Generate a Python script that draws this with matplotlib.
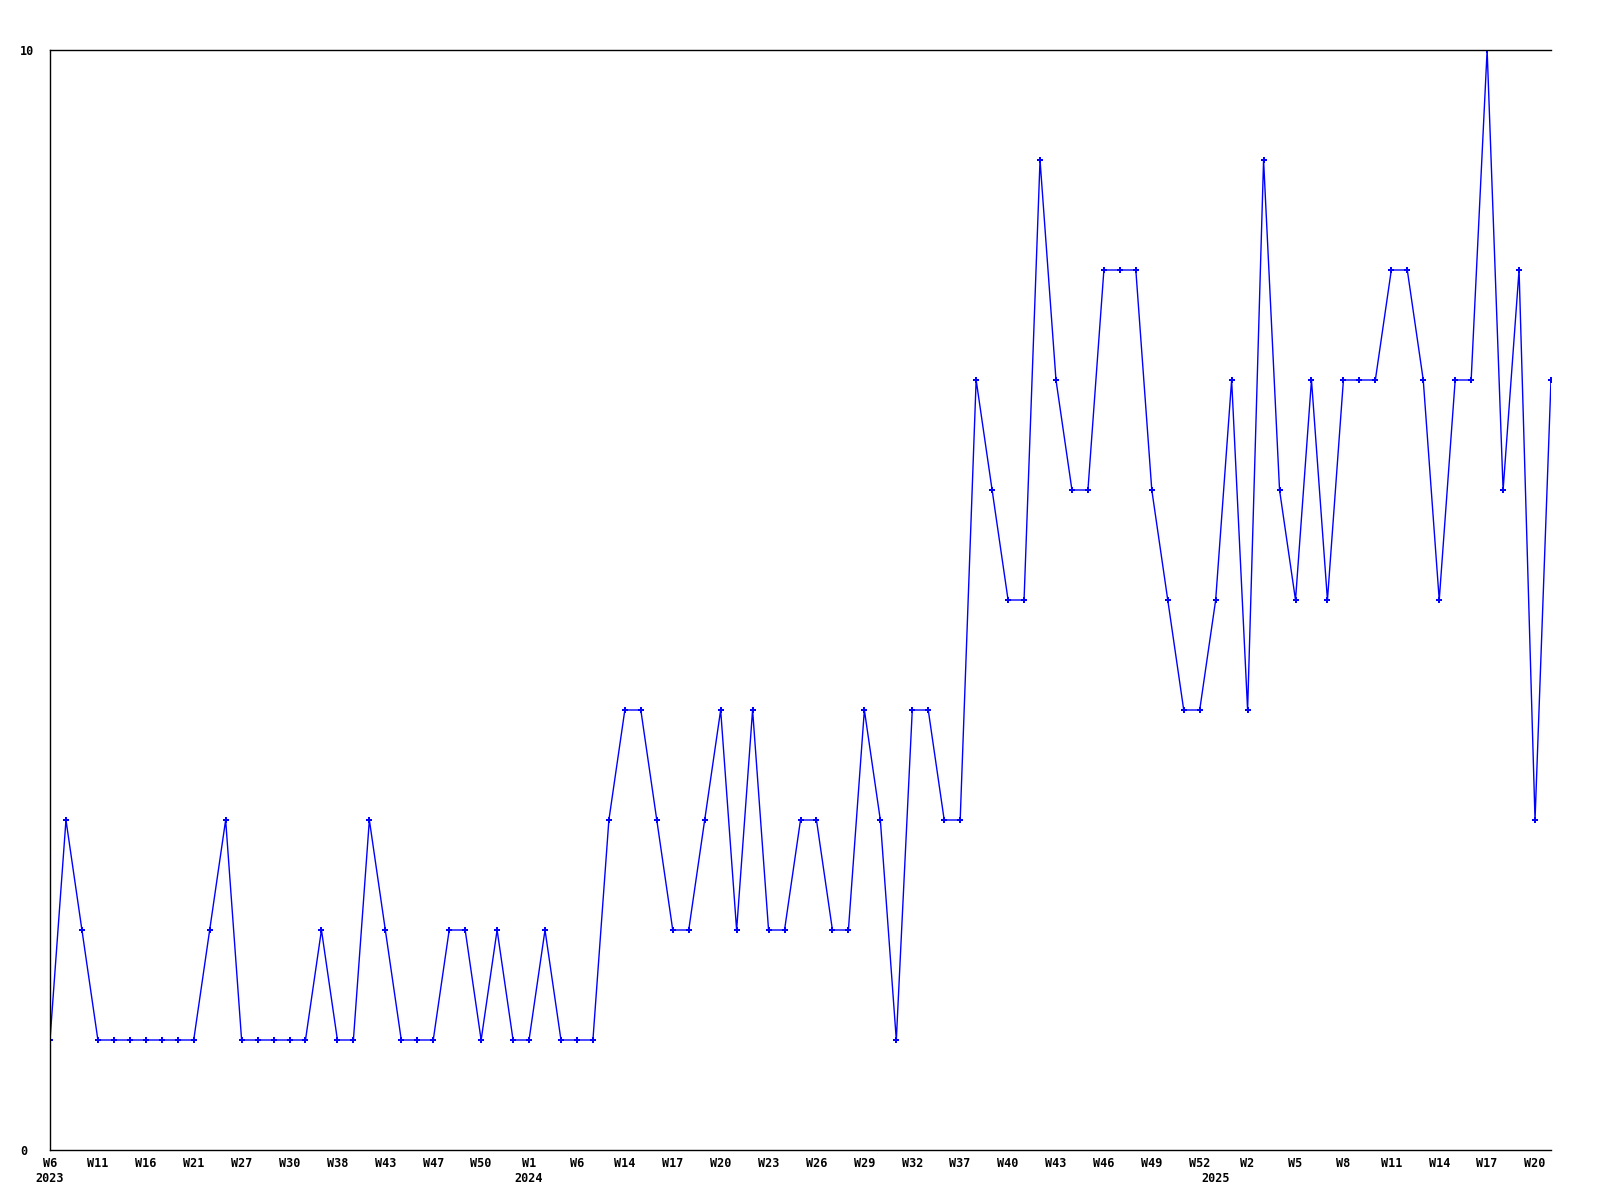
import matplotlib
matplotlib.use("Agg")
import matplotlib.pyplot as plt

# weekly counts, one point per week shown on the axis
values = [1, 3, 2, 1, 1, 1, 1, 1, 1, 1,
          2, 3, 1, 1, 1, 1, 1, 2, 1, 1,
          3, 2, 1, 1, 1, 2, 2, 1, 2, 1,
          1, 2, 1, 1, 1, 3, 4, 4, 3, 2,
          2, 3, 4, 2, 4, 2, 2, 3, 3, 2,
          2, 4, 3, 1, 4, 4, 3, 3, 7, 6,
          5, 5, 9, 7, 6, 6, 8, 8, 8, 6,
          5, 4, 4, 5, 7, 4, 9, 6, 5, 7,
          5, 7, 7, 7, 8, 8, 7, 5, 7, 7,
          10, 6, 8, 3, 7]

week_labels = ["W6", "W11", "W16", "W21", "W27", "W30", "W38", "W43", "W47", "W50",
               "W1", "W6", "W14", "W17", "W20", "W23", "W26", "W29", "W32", "W37",
               "W40", "W43", "W46", "W49", "W52", "W2", "W5", "W8", "W11", "W14",
               "W17", "W20"]
label_step = 3

years = ["2023", "2024", "2025"]
year_pos = [0, 30, 73]

y_ticks = [0, 10]

plt.rcParams['font.family'] = ['DejaVu Sans Mono']
plt.rcParams['font.weight'] = 'bold'
plt.rcParams['font.size'] = 8.5

fig = plt.figure(figsize=(16, 12), dpi=100)
ax = fig.add_axes([50 / 1600, 50 / 1200, 1501 / 1600, 1100 / 1200])

x = list(range(len(values)))
ax.plot(x, values, color='#0000ff', linewidth=1.0, marker='P', markersize=4,
        markeredgewidth=0, markerfacecolor='#0000ff')

ax.set_xlim(0, len(values) - 1)
ax.set_ylim(0, 10)

# years go on a second row, even where they sit under a week label
ax.xaxis.remove_overlapping_locs = False
ax.set_xticks(list(range(0, len(week_labels) * label_step, label_step)), labels=week_labels)
ax.set_xticks(year_pos, labels=years, minor=True)
ax.set_yticks(y_ticks, labels=[str(v) for v in y_ticks])
ax.tick_params(axis='x', which='major', length=0, pad=5)
ax.tick_params(axis='x', which='minor', length=0, pad=16)
ax.tick_params(axis='y', length=0, pad=21.6)
for lab in ax.get_yticklabels():
    lab.set_horizontalalignment('left')

ax.spines['right'].set_visible(False)
for s in ['left', 'bottom', 'top']:
    ax.spines[s].set_linewidth(1.0)
    ax.spines[s].set_color('black')

fig.savefig("out.png", dpi=100)
